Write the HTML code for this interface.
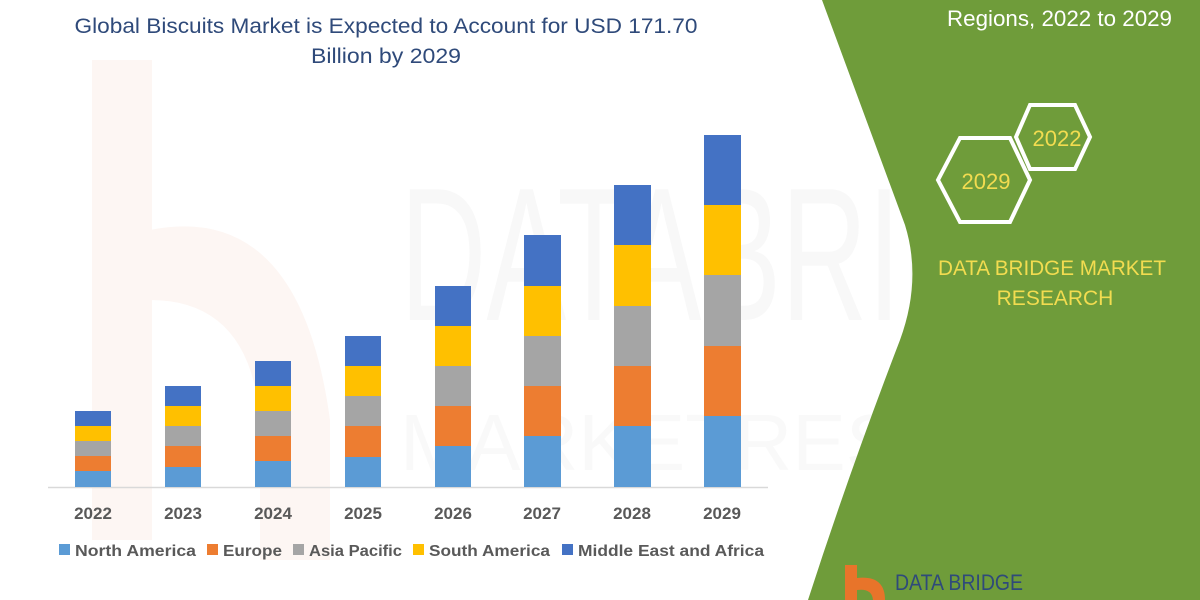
<!DOCTYPE html>
<html><head><meta charset="utf-8"><style>
html,body{margin:0;padding:0;background:#fff;}
svg{display:block;font-family:"Liberation Sans",sans-serif;}
</style></head><body>
<svg width="1200" height="600" viewBox="0 0 1200 600" xmlns="http://www.w3.org/2000/svg">
<rect width="1200" height="600" fill="#fff"/>
<!-- faint watermark -->
<rect x="92" y="60" width="60" height="480" fill="#fdf6f3"/>
<path d="M150 230 Q300 200 330 420 L330 560 L260 560 L260 420 Q250 300 150 300 Z" fill="#fdf6f3"/>
<text x="400" y="320" font-size="190" fill="#f8f8f8" textLength="760" lengthAdjust="spacingAndGlyphs">DATABRIDGE</text>
<text x="400" y="470" font-size="80" fill="#f9f9f9" textLength="780" lengthAdjust="spacingAndGlyphs">MARKETRESEARCH</text>
<!-- green panel -->
<path d="M822 0 L1200 0 L1200 600 L808 600 Q850 470 900 340 Q922 280 905 225 Z" fill="#6f9c3a"/>
<text x="1172" y="26" font-size="22" fill="#fff" text-anchor="end" textLength="225" lengthAdjust="spacingAndGlyphs">Regions, 2022 to 2029</text>
<polygon points="1030,105 1075,105 1090,137 1075,169 1030,169 1016,137" fill="none" stroke="#fff" stroke-width="4"/>
<text x="1057" y="146" font-size="22" fill="#f2dc50" text-anchor="middle">2022</text>
<polygon points="960,138 1010,138 1030,180 1010,222 960,222 938,180" fill="none" stroke="#fff" stroke-width="4"/>
<text x="986" y="189" font-size="22" fill="#f2dc50" text-anchor="middle">2029</text>
<text x="1052" y="275" font-size="21" fill="#f2dc50" text-anchor="middle" textLength="228" lengthAdjust="spacingAndGlyphs">DATA BRIDGE MARKET</text>
<text x="1055" y="305" font-size="21" fill="#f2dc50" text-anchor="middle">RESEARCH</text>
<text x="895" y="590" font-size="22" fill="#2f4a7a" textLength="128" lengthAdjust="spacingAndGlyphs">DATA BRIDGE</text>
<rect x="845" y="565" width="12" height="35" fill="#e8742a"/>
<path d="M857 578 Q885 575 885 600 L873 600 Q872 588 857 590Z" fill="#e8742a"/>
<!-- title -->
<text x="386" y="33" font-size="21" fill="#2f4a7a" text-anchor="middle" textLength="623" lengthAdjust="spacingAndGlyphs">Global Biscuits Market is Expected to Account for USD 171.70</text>
<text x="386" y="63" font-size="21" fill="#2f4a7a" text-anchor="middle" textLength="150" lengthAdjust="spacingAndGlyphs">Billion by 2029</text>
<!-- axis -->
<line x1="48" y1="487.5" x2="768" y2="487.5" stroke="#d9d9d9" stroke-width="1.5"/>
<g>
<rect x="75" y="471" width="36" height="16" fill="#5b9bd5"/><rect x="75" y="456" width="36" height="15" fill="#ed7d31"/><rect x="75" y="441" width="36" height="15" fill="#a5a5a5"/><rect x="75" y="426" width="36" height="15" fill="#ffc000"/><rect x="75" y="411" width="36" height="15" fill="#4472c4"/>
<rect x="165" y="467" width="36" height="20" fill="#5b9bd5"/><rect x="165" y="446" width="36" height="21" fill="#ed7d31"/><rect x="165" y="426" width="36" height="20" fill="#a5a5a5"/><rect x="165" y="406" width="36" height="20" fill="#ffc000"/><rect x="165" y="386" width="36" height="20" fill="#4472c4"/>
<rect x="255" y="461" width="36" height="26" fill="#5b9bd5"/><rect x="255" y="436" width="36" height="25" fill="#ed7d31"/><rect x="255" y="411" width="36" height="25" fill="#a5a5a5"/><rect x="255" y="386" width="36" height="25" fill="#ffc000"/><rect x="255" y="361" width="36" height="25" fill="#4472c4"/>
<rect x="345" y="457" width="36" height="30" fill="#5b9bd5"/><rect x="345" y="426" width="36" height="31" fill="#ed7d31"/><rect x="345" y="396" width="36" height="30" fill="#a5a5a5"/><rect x="345" y="366" width="36" height="30" fill="#ffc000"/><rect x="345" y="336" width="36" height="30" fill="#4472c4"/>
<rect x="435" y="446" width="36" height="41" fill="#5b9bd5"/><rect x="435" y="406" width="36" height="40" fill="#ed7d31"/><rect x="435" y="366" width="36" height="40" fill="#a5a5a5"/><rect x="435" y="326" width="36" height="40" fill="#ffc000"/><rect x="435" y="286" width="36" height="40" fill="#4472c4"/>
<rect x="524" y="436" width="37" height="51" fill="#5b9bd5"/><rect x="524" y="386" width="37" height="50" fill="#ed7d31"/><rect x="524" y="336" width="37" height="50" fill="#a5a5a5"/><rect x="524" y="286" width="37" height="50" fill="#ffc000"/><rect x="524" y="235" width="37" height="51" fill="#4472c4"/>
<rect x="614" y="426" width="37" height="61" fill="#5b9bd5"/><rect x="614" y="366" width="37" height="60" fill="#ed7d31"/><rect x="614" y="306" width="37" height="60" fill="#a5a5a5"/><rect x="614" y="245" width="37" height="61" fill="#ffc000"/><rect x="614" y="185" width="37" height="60" fill="#4472c4"/>
<rect x="704" y="416" width="37" height="71" fill="#5b9bd5"/><rect x="704" y="346" width="37" height="70" fill="#ed7d31"/><rect x="704" y="275" width="37" height="71" fill="#a5a5a5"/><rect x="704" y="205" width="37" height="70" fill="#ffc000"/><rect x="704" y="135" width="37" height="70" fill="#4472c4"/>
</g>
<g font-size="17" font-weight="bold" fill="#595959" text-anchor="middle">
<text x="93" y="519">2022</text><text x="183" y="519">2023</text><text x="273" y="519">2024</text><text x="363" y="519">2025</text>
<text x="453" y="519">2026</text><text x="542" y="519">2027</text><text x="632" y="519">2028</text><text x="722" y="519">2029</text>
</g>
<g font-size="16" font-weight="bold" fill="#595959">
<rect x="59" y="544" width="11" height="11" fill="#5b9bd5"/><text x="75" y="556" textLength="121" lengthAdjust="spacingAndGlyphs">North America</text>
<rect x="207" y="544" width="11" height="11" fill="#ed7d31"/><text x="223" y="556" textLength="59" lengthAdjust="spacingAndGlyphs">Europe</text>
<rect x="293" y="544" width="11" height="11" fill="#a5a5a5"/><text x="309" y="556" textLength="93" lengthAdjust="spacingAndGlyphs">Asia Pacific</text>
<rect x="413" y="544" width="11" height="11" fill="#ffc000"/><text x="429" y="556" textLength="121" lengthAdjust="spacingAndGlyphs">South America</text>
<rect x="562" y="544" width="11" height="11" fill="#4472c4"/><text x="578" y="556" textLength="186" lengthAdjust="spacingAndGlyphs">Middle East and Africa</text>
</g>
</svg>
</body></html>
